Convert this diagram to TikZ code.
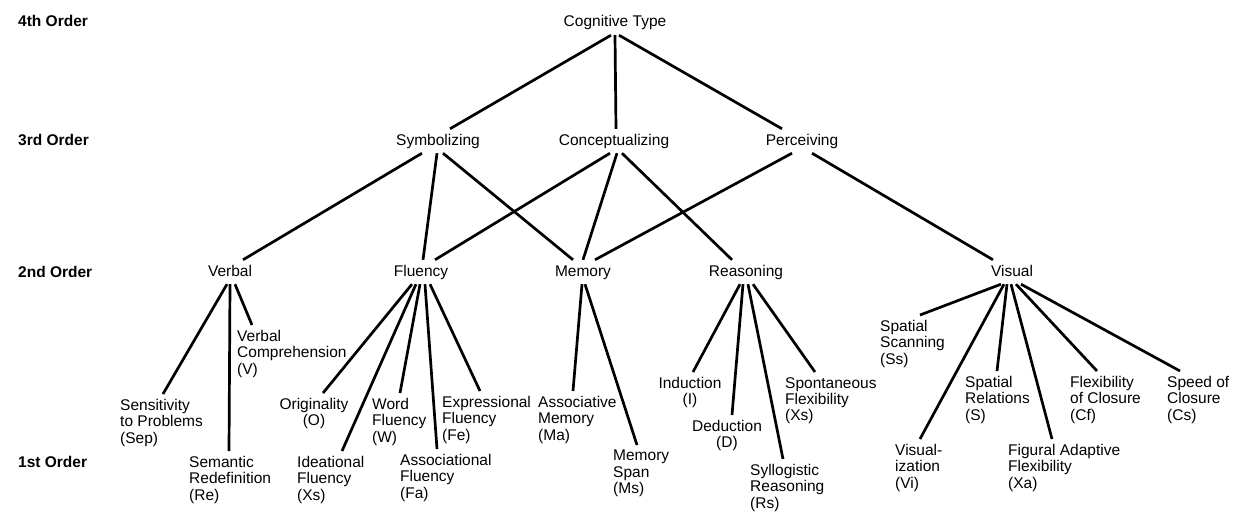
\documentclass[tikz,border=0pt]{standalone}
\usepackage{fontspec}
\setmainfont{Liberation Sans}

\begin{document}
\begin{tikzpicture}[
  x=1pt, y=-1pt,
  order/.style={anchor=west, font=\fontsize{15.5}{16}\selectfont\bfseries, text height=11pt, text depth=3pt, inner sep=0pt},
  factor/.style={font=\fontsize{15.5}{16}\selectfont, text height=11pt, text depth=3pt, inner xsep=0pt, inner ysep=5pt},
  leaf/.style={anchor=north west, align=left, font=\fontsize{15.5}{16.3}\selectfont, inner xsep=0pt, inner ysep=5pt},
  cleaf/.style={leaf, anchor=north, align=center},
  link/.style={line width=2.7pt},
]
  \useasboundingbox (0,0) rectangle (1240,514);

  % order labels
  \node[order] (o4) at (18,23) {4th Order};
  \node[order] (o3) at (18,141) {3rd Order};
  \node[order] (o2) at (18,273) {2nd Order};
  \node[order] (o1) at (18,463) {1st Order};

  % 4th and 3rd order
  \node[factor] (cog) at (615,23) {Cognitive Type};
  \node[factor] (sym) at (438,141) {Symbolizing};
  \node[factor] (conc) at (614,141) {Conceptualizing};
  \node[factor] (perc) at (802,141) {Perceiving};

  % 2nd order
  \node[factor] (verbal) at (230,272) {Verbal};
  \node[factor] (fluency) at (421,272) {Fluency};
  \node[factor] (memory) at (583,272) {Memory};
  \node[factor] (reasoning) at (746,272) {Reasoning};
  \node[factor] (visual) at (1012,272) {Visual};

  % 1st order
  \node[leaf] (sens) at (120,394) {Sensitivity\\to Problems\\(Sep)};
  \node[leaf] (seman) at (189,451) {Semantic\\Redefinition\\(Re)};
  \node[leaf] (vcomp) at (237,325) {Verbal\\Comprehension\\(V)};
  \node[cleaf] (orig) at (314,393) {Originality\\(O)};
  \node[leaf] (ideat) at (297,451) {Ideational\\Fluency\\(Xs)};
  \node[leaf] (word) at (372,393) {Word\\Fluency\\(W)};
  \node[leaf] (assocf) at (400,449) {Associational\\Fluency\\(Fa)};
  \node[leaf] (expr) at (442,391) {Expressional\\Fluency\\(Fe)};
  \node[leaf] (assocm) at (538,391) {Associative\\Memory\\(Ma)};
  \node[leaf] (span) at (613,445) {Memory\\Span\\(Ms)};
  \node[cleaf] (induc) at (690,372) {Induction\\(I)};
  \node[cleaf] (deduc) at (727,415) {Deduction\\(D)};
  \node[leaf] (syllo) at (750,459) {Syllogistic\\Reasoning\\(Rs)};
  \node[leaf] (spont) at (785,372) {Spontaneous\\Flexibility\\(Xs)};
  \node[leaf] (sscan) at (880,315) {Spatial\\Scanning\\(Ss)};
  \node[leaf] (visz) at (895,439) {Visual-\\ization\\(Vi)};
  \node[leaf] (srel) at (965,371) {Spatial\\Relations\\(S)};
  \node[leaf] (figur) at (1008,439) {Figural Adaptive\\Flexibility\\(Xa)};
  \node[leaf] (flexc) at (1070,371) {Flexibility\\of Closure\\(Cf)};
  \node[leaf] (speedc) at (1167,371) {Speed of\\Closure\\(Cs)};

  % 4th to 3rd order
  \draw[link] ([xshift=-4pt]cog.south) -- ([xshift=12pt]sym.north);
  \draw[link] (cog.south) -- ([xshift=2pt]conc.north);
  \draw[link] ([xshift=4pt]cog.south) -- ([xshift=-20pt]perc.north);

  % 3rd to 2nd order
  \draw[link] ([xshift=-16pt]sym.south) -- ([xshift=13pt]verbal.north);
  \draw[link] ([xshift=-1pt]sym.south) -- ([xshift=2pt]fluency.north);
  \draw[link] ([xshift=5pt]sym.south) -- ([xshift=-10pt]memory.north);
  \draw[link] ([xshift=-4pt]conc.south) -- ([xshift=14pt]fluency.north);
  \draw[link] ([xshift=3pt]conc.south) -- (memory.north);
  \draw[link] ([xshift=8pt]conc.south) -- ([xshift=-14pt]reasoning.north);
  \draw[link] ([xshift=-10pt]perc.south) -- ([xshift=12pt]memory.north);
  \draw[link] ([xshift=10pt]perc.south) -- ([xshift=-19pt]visual.north);

  % 2nd to 1st order
  \draw[link] ([xshift=-3pt]verbal.south) -- ([xshift=43pt]sens.north west);
  \draw[link] (verbal.south) -- ([xshift=40pt]seman.north west);
  \draw[link] ([xshift=5pt]verbal.south) -- ([xshift=15pt]vcomp.north west);

  \draw[link] ([xshift=-9pt]fluency.south) -- ([xshift=9pt]orig.north);
  \draw[link] ([xshift=-5pt]fluency.south) -- ([xshift=45pt]ideat.north west);
  \draw[link] ([xshift=-1pt]fluency.south) -- ([xshift=28pt]word.north west);
  \draw[link] ([xshift=4pt]fluency.south) -- ([xshift=37pt]assocf.north west);
  \draw[link] ([xshift=9pt]fluency.south) -- ([xshift=38pt]expr.north west);

  \draw[link] ([xshift=-1pt]memory.south) -- ([xshift=35pt]assocm.north west);
  \draw[link] ([xshift=2pt]memory.south) -- ([xshift=24pt]span.north west);

  \draw[link] ([xshift=-6pt]reasoning.south) -- ([xshift=3pt]induc.north);
  \draw[link] ([xshift=-3pt]reasoning.south) -- ([xshift=5pt]deduc.north);
  \draw[link] ([xshift=2pt]reasoning.south) -- ([xshift=33pt]syllo.north west);
  \draw[link] ([xshift=7pt]reasoning.south) -- ([xshift=30pt]spont.north west);

  \draw[link] ([xshift=-11pt]visual.south) -- ([xshift=40pt]sscan.north west);
  \draw[link] ([xshift=-8pt]visual.south) -- ([xshift=25pt]visz.north west);
  \draw[link] ([xshift=-5pt]visual.south) -- ([xshift=32pt]srel.north west);
  \draw[link] ([xshift=-1pt]visual.south) -- ([xshift=44pt]figur.north west);
  \draw[link] ([xshift=4pt]visual.south) -- ([xshift=27pt]flexc.north west);
  \draw[link] ([xshift=9pt]visual.south) -- ([xshift=13pt]speedc.north west);
\end{tikzpicture}
\end{document}
